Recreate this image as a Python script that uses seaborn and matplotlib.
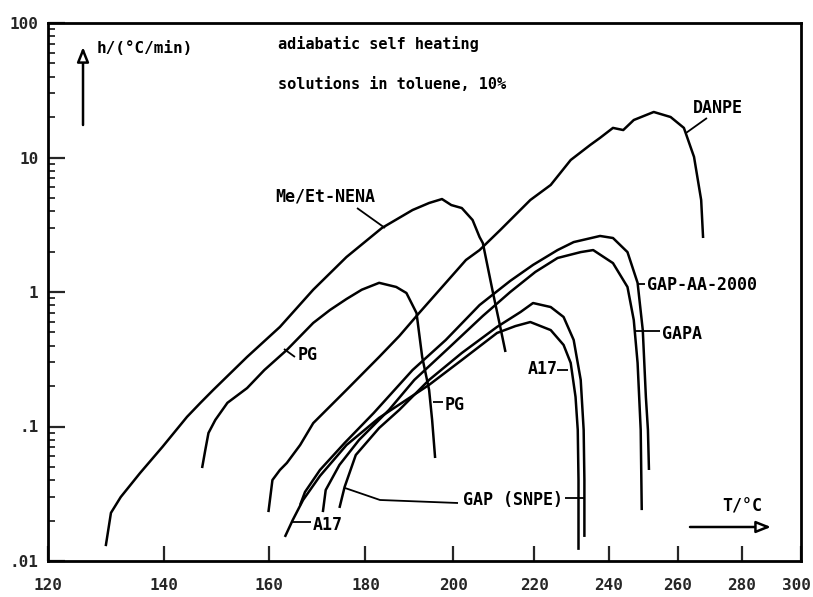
import numpy as np
import pandas as pd
import matplotlib
matplotlib.use("Agg")
import matplotlib.pyplot as plt
import matplotlib.transforms as mtransforms
import seaborn as sns
from matplotlib.ticker import FixedLocator, NullLocator, LogLocator, NullFormatter

sns.set_theme(style="ticks")
plt.rcParams["font.family"] = ["DejaVu Sans Mono", "DejaVu Sans"]
plt.rcParams["font.weight"] = "bold"

# Adiabatic self-heating of 10 % solutions in toluene:
# temperature T in °C, heating rate h in °C/min
nena_T = [129.7, 130.6, 132.3, 135.7, 139.7, 144.2, 146.7, 149.1, 155.6, 162.1, 168.9, 175.9,
          183.6, 190.5, 194.3, 197.3, 199.5, 202.0, 204.6, 206.3, 207.1, 209.6, 211.4, 212.7]
nena_h = [0.0129, 0.0228, 0.0299, 0.0451, 0.0705, 0.118, 0.150, 0.187, 0.329, 0.550, 1.04, 1.82,
          2.99, 4.07, 4.59, 4.91, 4.43, 4.21, 3.43, 2.56, 2.31, 0.983, 0.550, 0.358]

pg_T = [147.0, 147.6, 148.2, 149.5, 151.8, 155.6, 159.0, 163.5, 168.9, 172.4, 175.9, 179.2,
        183.0, 186.8, 189.1, 191.4, 192.7, 194.3, 195.0, 195.7]
pg_h = [0.0491, 0.0668, 0.0895, 0.112, 0.150, 0.193, 0.263, 0.371, 0.589, 0.735, 0.887, 1.04,
        1.17, 1.09, 0.983, 0.698, 0.329, 0.187, 0.112, 0.0583]

danpe_T = [159.8, 160.6, 162.1, 163.5, 166.2, 168.9, 175.9, 183.0, 187.5, 192.0, 198.2, 203.0,
           206.3, 211.4, 219.0, 224.3, 229.6, 234.9, 237.6, 241.2, 244.1, 247.1, 252.9, 257.9,
           261.9, 265.0, 267.2, 267.8]
danpe_h = [0.0231, 0.0400, 0.0475, 0.0536, 0.0728, 0.106, 0.187, 0.329, 0.471, 0.698, 1.17, 1.73,
           2.05, 2.89, 4.83, 6.25, 9.58, 12.4, 14.0, 16.6, 16.0, 19.0, 21.8, 20.0,
           16.6, 10.1, 4.83, 2.52]

gapaa_T = [166.2, 167.2, 170.3, 175.5, 181.8, 190.5, 198.2, 206.3, 213.9, 219.7, 226.1, 230.4,
           237.6, 241.2, 245.3, 248.2, 249.7, 250.6, 251.2, 251.5]
gapaa_h = [0.0261, 0.0326, 0.0475, 0.0754, 0.126, 0.263, 0.440, 0.800, 1.21, 1.59, 2.05, 2.35,
           2.61, 2.52, 1.98, 1.17, 0.521, 0.166, 0.0942, 0.0475]

gapa_T = [170.9, 171.5, 174.4, 178.6, 185.2, 190.9, 198.9, 207.1, 213.9, 220.3, 226.1, 232.3,
          235.7, 241.2, 245.3, 247.1, 248.2, 249.1, 249.4]
gapa_h = [0.0231, 0.0337, 0.0518, 0.0794, 0.133, 0.222, 0.384, 0.664, 1.00, 1.41, 1.79, 1.98,
          2.05, 1.64, 1.09, 0.619, 0.297, 0.0942, 0.0239]

snpe_T = [174.4, 175.5, 177.9, 183.0, 187.5, 194.3, 202.0, 210.6, 216.5, 219.7, 224.3, 227.7,
          230.4, 232.3, 233.1, 233.3, 233.3]
snpe_h = [0.0248, 0.0355, 0.0614, 0.0975, 0.133, 0.222, 0.352, 0.550, 0.710, 0.828, 0.773, 0.652,
          0.440, 0.222, 0.0942, 0.0400, 0.0151]

a17_T = [163.1, 164.7, 166.8, 170.3, 175.9, 183.0, 194.3, 202.0, 210.6, 215.2, 219.0, 224.3,
         227.7, 229.6, 230.9, 231.5, 231.7, 231.7]
a17_h = [0.0151, 0.0202, 0.0284, 0.0429, 0.0728, 0.116, 0.204, 0.312, 0.496, 0.558, 0.598, 0.521,
         0.404, 0.297, 0.166, 0.0942, 0.0400, 0.0121]

x_ticks = [120, 140, 160, 180, 200, 220, 240, 260, 280, 300]
y_ticks = [0.01, 0.1, 1, 10, 100]
y_tick_labels = [".01", ".1", "1", "10", "100"]

curves = {
    "Me/Et-NENA": (nena_T, nena_h),
    "PG": (pg_T, pg_h),
    "DANPE": (danpe_T, danpe_h),
    "GAP-AA-2000": (gapaa_T, gapaa_h),
    "GAPA": (gapa_T, gapa_h),
    "GAP (SNPE)": (snpe_T, snpe_h),
    "A17": (a17_T, a17_h),
}
df = pd.concat(
    [pd.DataFrame({"T": t, "h": h, "sample": name}) for name, (t, h) in curves.items()],
    ignore_index=True,
)

fig = plt.figure(figsize=(8.13, 5.97), dpi=100)
ax = fig.add_axes([48 / 813, 36 / 597, 753 / 813, 538 / 597])

sns.lineplot(data=df, x="T", y="h", units="sample", estimator=None, sort=False,
             color="black", lw=1.8, legend=False, ax=ax)
for ln in ax.lines:
    ln.set_solid_joinstyle("round")
    ln.set_solid_capstyle("butt")


# Arrhenius-type abscissa: linear in 1/T(K), labelled in °C
def fwd(t):
    return -1000.0 / (np.asarray(t, dtype=float) + 273.15)


def inv(u):
    return -1000.0 / np.asarray(u, dtype=float) - 273.15


ax.set_xscale("function", functions=(fwd, inv))
ax.set_yscale("log")
ax.set_xlim(120, 300)
ax.set_ylim(0.01, 100)

ax.xaxis.set_major_locator(FixedLocator(x_ticks))
ax.set_xticklabels([str(v) for v in x_ticks])
ax.xaxis.set_minor_locator(NullLocator())
ax.yaxis.set_major_locator(FixedLocator(y_ticks))
ax.set_yticklabels(y_tick_labels)
ax.yaxis.set_minor_locator(LogLocator(base=10, subs=np.arange(2, 10)))
ax.yaxis.set_minor_formatter(NullFormatter())

ax.tick_params(axis="x", which="major", direction="in", length=11, width=1.6,
               labelsize=11.5, pad=12, top=False, bottom=True)
ax.tick_params(axis="y", which="major", direction="in", length=12, width=1.6,
               labelsize=11.5, pad=7, left=True, right=False)
ax.tick_params(axis="y", which="minor", direction="in", length=5, width=1.3,
               left=True, right=False)
for lab in ax.get_xticklabels() + ax.get_yticklabels():
    lab.set_fontweight("bold")
# keep the last abscissa label inside the canvas
last = ax.get_xticklabels()[-1]
last.set_transform(last.get_transform()
                   + mtransforms.ScaledTranslation(-5 / 100, 0, fig.dpi_scale_trans))
for sp in ax.spines.values():
    sp.set_visible(True)
    sp.set_linewidth(2.0)
    sp.set_color("black")
ax.set_xlabel("")
ax.set_ylabel("")

tr = ax.transAxes
txt = dict(transform=tr, fontsize=12, fontweight="bold", va="center", ha="left", color="black")

ax.text(0.3050, 0.9610, "adiabatic self heating", **{**txt, "fontsize": 11})
ax.text(0.3050, 0.8866, "solutions in toluene, 10%", **{**txt, "fontsize": 11})
ax.text(0.0651, 0.9517, "h/(°C/min)", **{**txt, "fontsize": 11.5})
ax.text(0.9215, 0.1004, "T/°C", **{**txt, "ha": "center"})

labels = [
    ("DANPE", 0.8566, 0.8420),
    ("Me/Et-NENA", 0.3015, 0.6766),
    ("PG", 0.3320, 0.3829),
    ("PG", 0.5272, 0.2900),
    ("GAP-AA-2000", 0.7955, 0.5130),
    ("GAPA", 0.8154, 0.4219),
    ("A17", 0.6375, 0.3569),
    ("GAP (SNPE)", 0.5511, 0.1134),
    ("A17", 0.3519, 0.0669),
]
for s, x, y in labels:
    ax.text(x, y, s, **txt)

leaders = [
    ([0.8472, 0.8751], [0.7955, 0.8234]),
    ([0.4104, 0.4475], [0.6561, 0.6190]),
    ([0.3134, 0.3280], [0.3941, 0.3792]),
    ([0.5113, 0.5246], [0.2955, 0.2955]),
    ([0.7822, 0.7928], [0.5149, 0.5149]),
    ([0.7782, 0.8127], [0.4275, 0.4275]),
    ([0.6760, 0.6906], [0.3550, 0.3550]),
    ([0.5445, 0.4409, 0.3944], [0.1078, 0.1134, 0.1357]),
    ([0.6866, 0.7118], [0.1171, 0.1171]),
    ([0.3240, 0.3492], [0.0725, 0.0725]),
]
for xs, ys in leaders:
    ax.plot(xs, ys, transform=tr, color="black", lw=1.3, solid_capstyle="butt")

arrow = dict(arrowstyle="-|>,head_length=0.55,head_width=0.22", fc="white", ec="black",
             lw=1.8, mutation_scale=16, shrinkA=0, shrinkB=0)
ax.annotate("", xy=(0.0465, 0.9554), xytext=(0.0465, 0.8104), xycoords=tr, textcoords=tr,
            arrowprops=arrow)
ax.annotate("", xy=(0.9602, 0.0632), xytext=(0.8526, 0.0632), xycoords=tr, textcoords=tr,
            arrowprops=arrow)

fig.savefig("out.png", dpi=100, facecolor="white")
